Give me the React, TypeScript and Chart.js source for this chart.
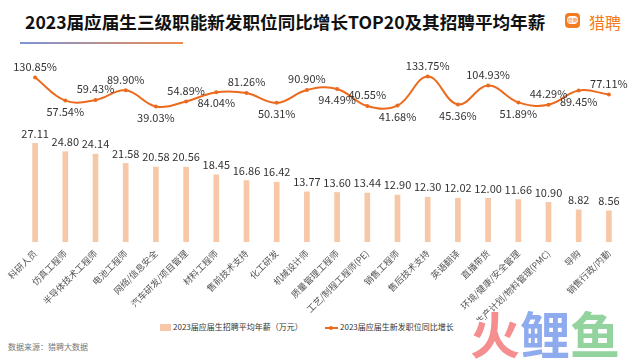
import React, { useEffect, useRef } from "react";
import { Chart, registerables } from "chart.js";

Chart.register(...registerables);

const categories = [
  "科研人员", "仿真工程师", "半导体技术工程师", "电池工程师", "网络/信息安全",
  "汽车研发/项目管理", "材料工程师", "售前技术支持", "化工研发", "机械设计师",
  "质量管理工程师", "工艺/制程工程师(PE)", "销售工程师", "售后技术支持", "英语翻译",
  "直播带货", "环境/健康/安全管理", "生产计划/物料管理(PMC)", "导购", "销售行政/内勤",
];

const salary = [
  27.11, 24.8, 24.14, 21.58, 20.58, 20.56, 18.45, 16.86, 16.42, 13.77,
  13.6, 13.44, 12.9, 12.3, 12.02, 12.0, 11.66, 10.9, 8.82, 8.56,
];

const growth = [
  130.85, 57.54, 59.43, 89.9, 39.03, 54.89, 84.04, 81.26, 50.31, 90.9,
  94.49, 40.55, 41.68, 133.75, 45.36, 104.93, 51.89, 44.29, 89.45, 77.11,
];

// label side for the growth line values (style only)
const growthLabelSide = [
  "up", "down", "up", "up", "down", "up", "down", "up", "down", "up",
  "down", "up", "down", "up", "down", "up", "down", "up", "down", "up",
];

const salaryLabel = "2023届应届生招聘平均年薪（万元）";
const growthLabel = "2023届应届生新发职位同比增长";
const titleText = "2023届应届生三级职能新发职位同比增长TOP20及其招聘平均年薪";

const FONT = '"Noto Sans CJK SC", "Microsoft YaHei", sans-serif';
const BAR_COLOR = "#F6C8A8";
const LINE_COLOR = "#EC6A1E";

const valueLabels = {
  id: "valueLabels",
  afterDatasetsDraw(chart: any) {
    const ctx = chart.ctx;
    ctx.save();
    ctx.font = `11px ${FONT}`;
    ctx.fillStyle = "#333";
    ctx.textAlign = "center";
    ctx.textBaseline = "middle";
    chart.getDatasetMeta(0).data.forEach((el: any, i: number) => {
      ctx.fillText(salary[i].toFixed(2), el.x, el.y - 10);
    });
    chart.getDatasetMeta(1).data.forEach((el: any, i: number) => {
      const dy = growthLabelSide[i] === "up" ? -11 : 11;
      ctx.fillText(growth[i].toFixed(2) + "%", el.x, el.y + dy);
    });
    ctx.restore();
  },
};

export default function App() {
  const ref = useRef<HTMLCanvasElement | null>(null);

  useEffect(() => {
    if (!ref.current) return;
    const chart = new Chart(ref.current, {
      type: "bar",
      data: {
        labels: categories,
        datasets: [
          {
            type: "bar",
            label: salaryLabel,
            data: salary,
            backgroundColor: BAR_COLOR,
            barThickness: 5,
            yAxisID: "y",
            order: 2,
          },
          {
            type: "line",
            label: growthLabel,
            data: growth,
            borderColor: LINE_COLOR,
            backgroundColor: LINE_COLOR,
            borderWidth: 2,
            pointRadius: 2,
            pointBackgroundColor: LINE_COLOR,
            pointBorderWidth: 0,
            tension: 0.4,
            yAxisID: "y1",
            order: 1,
          } as any,
        ],
      },
      options: {
        responsive: false,
        animation: false,
        layout: { padding: { top: 10, left: 20, right: 16, bottom: 0 } },
        plugins: {
          legend: { display: false },
          tooltip: { enabled: false },
        },
        scales: {
          x: {
            grid: { display: false, drawTicks: false },
            border: { display: false },
            ticks: {
              maxRotation: 45,
              minRotation: 45,
              autoSkip: false,
              padding: 6,
              color: "#555",
              font: { size: 9, family: FONT },
            },
            afterFit: (scale: any) => {
              scale.height = 78;
            },
          },
          y: { display: false, min: 0, max: 50 },
          y1: { display: false, min: -390, max: 186, position: "right" },
        },
      },
      plugins: [valueLabels],
    });
    return () => chart.destroy();
  }, []);

  return (
    <div
      style={{
        position: "fixed",
        left: 0,
        top: 0,
        width: 640,
        height: 360,
        background: "#fff",
        overflow: "hidden",
        fontFamily: FONT,
      }}
    >
      <div
        style={{
          position: "absolute",
          left: 25,
          top: 10,
          fontSize: 17.6,
          fontWeight: 700,
          color: "#111",
          whiteSpace: "nowrap",
          lineHeight: "24px",
        }}
      >
        {titleText}
      </div>
      <div
        style={{
          position: "absolute",
          left: 20,
          top: 42,
          width: 163,
          height: 2,
          background: "linear-gradient(to right, #7A95D6, #F08A4E)",
        }}
      />
      {/* logo */}
      <div
        style={{
          position: "absolute",
          left: 565,
          top: 13,
          width: 15,
          height: 15,
          borderRadius: 4,
          background: "#F47B20",
        }}
      >
        <div
          style={{
            position: "absolute",
            left: 2,
            top: 3,
            width: 11,
            height: 8,
            borderRadius: 4,
            background: "#fff",
            fontSize: 5,
            lineHeight: "8px",
            color: "#F47B20",
            textAlign: "center",
            overflow: "hidden",
          }}
        >
          猎聘
        </div>
      </div>
      <div
        style={{
          position: "absolute",
          left: 589,
          top: 10,
          fontSize: 16,
          lineHeight: "24px",
          color: "#F47B20",
          whiteSpace: "nowrap",
        }}
      >
        猎聘
      </div>

      <canvas
        ref={ref}
        width={640}
        height={270}
        style={{ position: "absolute", left: 0, top: 50, width: 640, height: 270 }}
      />

      {/* legend */}
      <div
        style={{
          position: "absolute",
          left: 160,
          top: 324,
          width: 11,
          height: 7,
          background: BAR_COLOR,
        }}
      />
      <div
        style={{
          position: "absolute",
          left: 173,
          top: 321,
          fontSize: 8,
          lineHeight: "12px",
          color: "#333",
          whiteSpace: "nowrap",
        }}
      >
        {salaryLabel}
      </div>
      <div
        style={{
          position: "absolute",
          left: 325,
          top: 327,
          width: 13,
          height: 2,
          background: LINE_COLOR,
        }}
      />
      <div
        style={{
          position: "absolute",
          left: 329,
          top: 326,
          width: 4,
          height: 4,
          borderRadius: 2,
          background: LINE_COLOR,
        }}
      />
      <div
        style={{
          position: "absolute",
          left: 340,
          top: 321,
          fontSize: 8,
          lineHeight: "12px",
          color: "#333",
          whiteSpace: "nowrap",
        }}
      >
        {growthLabel}
      </div>

      <div
        style={{
          position: "absolute",
          left: 8,
          top: 341,
          fontSize: 8,
          lineHeight: "12px",
          color: "#777",
          whiteSpace: "nowrap",
        }}
      >
        数据来源：猎聘大数据
      </div>

      {/* watermark */}
      <div
        style={{
          position: "absolute",
          left: 470,
          top: 302,
          fontSize: 50,
          fontWeight: 700,
          lineHeight: "60px",
          whiteSpace: "nowrap",
        }}
      >
        <span style={{ color: "#F58F8F" }}>火</span>
        <span style={{ color: "#8FABEF" }}>鲤</span>
        <span style={{ color: "#93D39E" }}>鱼</span>
      </div>
    </div>
  );
}
